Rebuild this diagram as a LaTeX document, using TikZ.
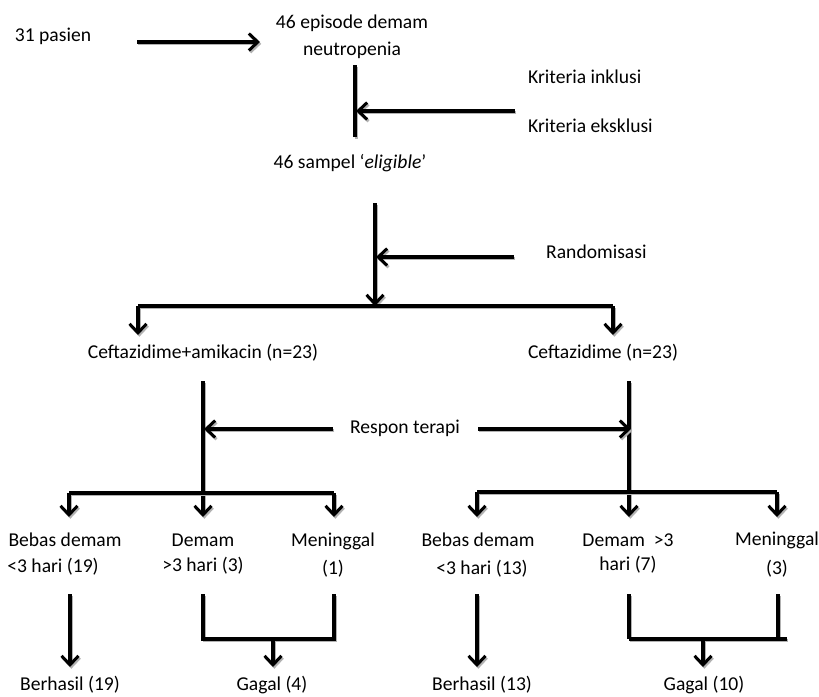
\documentclass[tikz,border=0pt]{standalone}
\usepackage{fontspec}
\setmainfont{Carlito}
\usetikzlibrary{arrows.meta}
\tikzset{
  txt/.style={inner sep=0pt, font=\fontsize{19.6}{27}\selectfont, align=center},
  ln/.style={line width=3.3pt, black, line cap=butt,
     preaction={draw=gray!60, line width=3.3pt, transform canvas={shift={(1.3pt,-1.8pt)}}}},
  arr/.style={ln, -{Straight Barb[length=9pt,width=17pt,line width=3pt]}},
}
\begin{document}
\begin{tikzpicture}[x=1pt,y=-1pt]
\useasboundingbox (0,0) rectangle (819,696);
% texts
\node[txt] (pasien) at (53,36) {31 pasien};
\node[txt] (ep) at (352,37) {46 episode demam\\neutropenia};
\node[txt,anchor=west] (inkl) at (528,77) {Kriteria inklusi};
\node[txt,anchor=west] (eksk) at (528,126) {Kriteria eksklusi};
\node[txt] (elig) at (350,163) {46 sampel ‘\textit{eligible}’};
\node[txt,anchor=west] (rand) at (546,252) {Randomisasi};
\node[txt] (cefA) at (203,353) {Ceftazidime+amikacin (n=23)};
\node[txt] (cefB) at (603,353) {Ceftazidime (n=23)};
\node[txt] (respon) at (405,428) {Respon terapi};
\node[txt] (a1) at (65,540) {Bebas demam};
\node[txt] (a1b) at (53,567) {<3 hari (19)};
\node[txt] (a2) at (203,540) {Demam};
\node[txt] (a2b) at (203,566) {>3 hari (3)};
\node[txt] (a3) at (333,541) {Meninggal};
\node[txt] (a3b) at (333,569) {(1)};
\node[txt] (b1) at (478,540) {Bebas demam};
\node[txt] (b1b) at (482,569) {<3 hari (13)};
\node[txt] (b2) at (628,540) {Demam~~>3};
\node[txt] (b2b) at (628,565) {hari (7)};
\node[txt] (b3) at (777,540) {Meninggal};
\node[txt] (b3b) at (777,569) {(3)};
\node[txt] (r1) at (70,685) {Berhasil (19)};
\node[txt] (r2) at (272,685) {Gagal (4)};
\node[txt] (r3) at (482,685) {Berhasil (13)};
\node[txt] (r4) at (704,685) {Gagal (10)};
% coordinates
\coordinate (p1) at (137,42); \coordinate (p2) at (260,42);
\coordinate (v1t) at (355,65); \coordinate (v1b) at (355,137);
\coordinate (k1) at (515,111); \coordinate (k2) at (356,111);
\coordinate (v2t) at (375,203); \coordinate (v2b) at (375,306);
\coordinate (hL) at (138,306); \coordinate (hR) at (613,306);
\coordinate (hLd) at (138,335); \coordinate (hRd) at (613,335);
\coordinate (rd1) at (514,257); \coordinate (rd2) at (376,257);
\coordinate (lt) at (203,381); \coordinate (lb) at (203,517);
\coordinate (rt) at (629,381); \coordinate (rb) at (629,517);
\coordinate (rs1) at (333,429); \coordinate (rs2) at (204,429);
\coordinate (rs3) at (478,429); \coordinate (rs4) at (631,429);
\coordinate (lh1) at (69,493); \coordinate (lh2) at (334,493);
\coordinate (lh1d) at (69,517); \coordinate (lh2d) at (334,517);
\coordinate (rh1) at (477,492); \coordinate (rh2) at (777,492);
\coordinate (rh1d) at (477,517); \coordinate (rh2d) at (777,517);
% bottom
\coordinate (c1t) at (70,594); \coordinate (c1b) at (70,667);
\coordinate (c2a) at (203,594); \coordinate (c2b) at (203,639);
\coordinate (c2c) at (334,639); \coordinate (c2d) at (334,594);
\coordinate (c2m) at (273,639); \coordinate (c2e) at (273,667);
\coordinate (c3t) at (477,594); \coordinate (c3b) at (477,667);
\coordinate (c4a) at (629,594); \coordinate (c4b) at (629,639);
\coordinate (c4c) at (778,594); \coordinate (c4d) at (778,639);
\coordinate (c4r) at (787,639);
\coordinate (c4m) at (703,639); \coordinate (c4e) at (703,667);
% connectors
\draw[arr] (p1) -- (p2);
\draw[ln] (v1t) -- (v1b);
\draw[arr] (k1) -- (k2);
\draw[arr] (v2t) -- (v2b);
\draw[ln] (hL) -- (hR);
\draw[arr] (hL) -- (hLd);
\draw[arr] (hR) -- (hRd);
\draw[arr] (rd1) -- (rd2);
\draw[arr] (lt) -- (lb);
\draw[arr] (rt) -- (rb);
\draw[arr] (rs1) -- (rs2);
\draw[arr] (rs3) -- (rs4);
\draw[ln] (lh1) -- (lh2);
\draw[arr] (lh1) -- (lh1d);
\draw[arr] (lh2) -- (lh2d);
\draw[ln] (rh1) -- (rh2);
\draw[arr] (rh1) -- (rh1d);
\draw[arr] (rh2) -- (rh2d);
\draw[arr] (c1t) -- (c1b);
\draw[ln] (c2a) -- (c2b) -- (c2c) -- (c2d);
\draw[arr] (c2m) -- (c2e);
\draw[arr] (c3t) -- (c3b);
\draw[ln] (c4a) -- (c4b);
\draw[ln] (c4c) -- (c4d);
\draw[ln] (c4b) -- (c4r);
\draw[arr] (c4m) -- (c4e);
\end{tikzpicture}
\end{document}
